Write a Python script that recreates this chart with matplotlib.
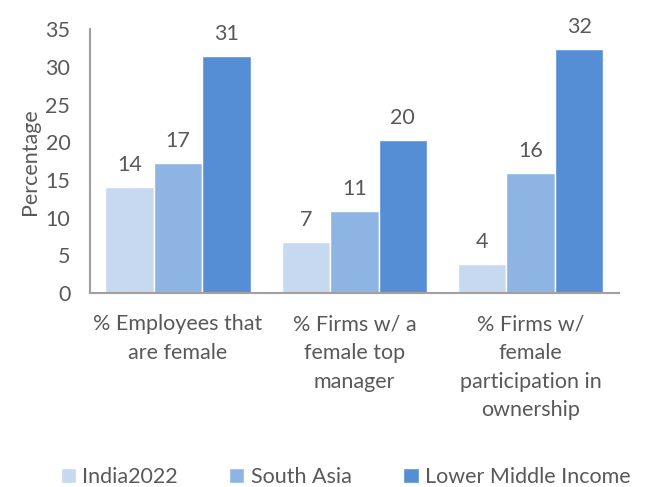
import numpy as np
import matplotlib.pyplot as plt

plt.rcParams['font.family'] = ['Lato', 'DejaVu Sans']

categories = ['% Employees that\nare female', '% Firms w/ a\nfemale top\nmanager',
              '% Firms w/\nfemale\nparticipation in\nownership']
series = ['India2022', 'South Asia', 'Lower Middle Income']
india = [14.1, 6.8, 3.9]
south_asia = [17.2, 10.9, 15.9]
lmi = [31.4, 20.3, 32.4]
colores = ['#C6D9F1', '#8EB4E3', '#558ED5']
gris = '#595959'
fs = 15.5

fig = plt.figure(figsize=(6.46, 4.87), dpi=100)
ax = fig.add_axes([0.139, 0.398, 0.819, 0.542])

x = np.arange(len(categories))
w = 0.275
for i, (nome, vals) in enumerate(zip(series, [india, south_asia, lmi])):
    pos = x + (i - 1) * w
    ax.bar(pos, vals, w, color=colores[i], edgecolor='white', linewidth=1, label=nome)
    for p, v in zip(pos, vals):
        ax.text(p, v + 1.6, '%.0f' % v, ha='center', va='bottom', fontsize=fs, color=gris)

ax.set_xlim(-0.5, 2.5)
ax.set_ylim(0, 35)
ax.set_yticks(range(0, 36, 5))
ax.set_xticks(x)
ax.set_xticklabels(categories, fontsize=fs, color=gris, linespacing=1.55, va='top')
ax.tick_params(axis='y', labelsize=fs, colors=gris, length=0, pad=14)
ax.tick_params(axis='x', length=0, pad=15)
ax.set_ylabel('Percentage', fontsize=fs, color=gris, labelpad=4)
for s in ['top', 'right']:
    ax.spines[s].set_visible(False)
for s in ['left', 'bottom']:
    ax.spines[s].set_color('#A0A0A0')
    ax.spines[s].set_linewidth(1.5)

fig.legend(loc='lower center', bbox_to_anchor=(0.535, -0.04), ncol=3, frameon=False,
           fontsize=fs, labelcolor=gris, handlelength=0.7, handleheight=0.7,
           handletextpad=0.3, columnspacing=2.4)

fig.savefig('out.png', dpi=100)
